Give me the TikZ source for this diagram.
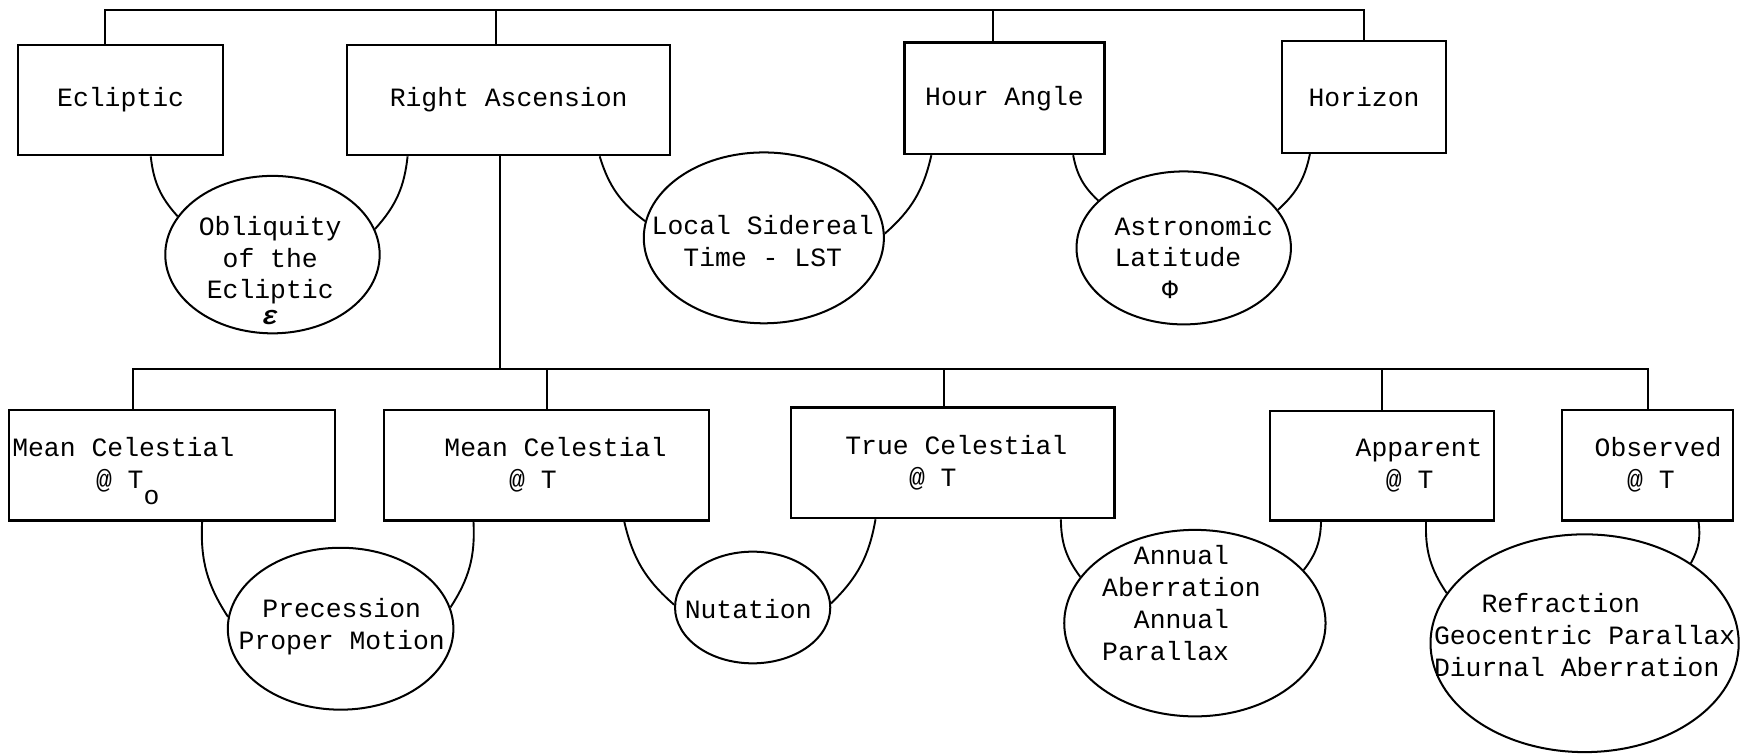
\documentclass[tikz,border=0pt]{standalone}
\usepackage{fontspec}
\setmainfont{Liberation Mono}
\usetikzlibrary{shapes.geometric}

\begin{document}
\begin{tikzpicture}[x=1pt, y=-1pt, line width=1.8pt,
        every node/.style={font=\fontsize{23.66}{28.5}\selectfont, inner sep=0pt},
        frame/.style={draw, rectangle, line width=2pt, minimum height=99pt},
        oval/.style={draw, ellipse, line width=1.8pt},
        link/.style={line width=1.7pt}]
        \useasboundingbox (0,0) rectangle (1568,675);

        % Nodes
        \node (ecl) [frame, minimum width=184pt] at (108,89.5) {Ecliptic};
        \node (ra) [frame, minimum width=289pt] at (455.5,89.5) {Right Ascension};
        \node (ha) [frame, minimum width=179pt, minimum height=100pt] at (899.5,88) {Hour Angle};
        \node (hor) [frame, minimum width=147pt, minimum height=100pt] at (1221.5,87) {Horizon};

        \node (obl) [oval, minimum width=192pt, minimum height=141pt] at (244,228) {};
        \node (oblt) [align=flush center] at (242,242) {Obliquity\\of the\\Ecliptic\\[-6pt]{\bfseries\itshape ε}};
        \node (lst) [oval, minimum width=215pt, minimum height=153pt] at (684,213) {};
        \node (lstt) [align=flush center] at (683,215.5) {Local Sidereal\\Time - LST};
        \node (ast) [oval, minimum width=192pt, minimum height=137pt] at (1060,222) {};
        \node (astt) [align=flush left] at (1069,230.5) {Astronomic\\Latitude\\~~~Φ};

        \node (mc0) [frame, minimum width=292pt, text width=292pt, align=flush left] at (154,416.5)
            {\hspace*{3pt}Mean Celestial\\\hspace*{78pt}@ T\raisebox{-14pt}[0pt][0pt]{o}};
        \node (mct) [frame, minimum width=291pt, text width=291pt, align=flush left] at (489.5,416.5)
            {\hspace*{54pt}Mean Celestial\\\hspace*{112pt}@ T};
        \node (tc) [frame, minimum width=290pt, text width=290pt, align=flush left] at (853,414.5)
            {\hspace*{49pt}True Celestial\\\hspace*{106pt}@ T};
        \node (app) [frame, minimum width=201pt, text width=201pt, align=flush left, minimum height=98pt] at (1237.5,417)
            {\hspace*{77pt}Apparent\\\hspace*{104pt}@ T};
        \node (obs) [frame, minimum width=153pt, text width=153pt, align=flush left] at (1475.5,416.5)
            {\hspace*{29pt}Observed\\\hspace*{58pt}@ T};

        \node (pre) [oval, minimum width=202pt, minimum height=145pt] at (305,563) {};
        \node (pret) [align=flush center] at (306,561) {Precession\\Proper Motion};
        \node (nut) [oval, minimum width=139pt, minimum height=100pt] at (674,544) {};
        \node (nutt) at (670,545) {Nutation};
        \node (ann) [oval, minimum width=234pt, minimum height=167pt] at (1070,558) {};
        \node (annt) [align=flush left] at (1058,540) {~~Annual\\Aberration\\~~Annual\\Parallax};
        \node (refr) [oval, minimum width=276pt, minimum height=195pt] at (1419,576) {};
        \node (refrt) [align=flush left] at (1419,568.5) {~~~Refraction\\Geocentric Parallax\\Diurnal Aberration};

        % Edges
        \coordinate (bus1) at (0,9);
        \coordinate (bus2) at (0,330);
        \draw ([xshift=-14pt]ecl.north) |- (bus1 -| hor.north) -- (hor.north);
        \draw ([xshift=-11pt]ra.north) -- ([xshift=-11pt]ra.north |- bus1);
        \draw ([xshift=-10.5pt]ha.north) -- ([xshift=-10.5pt]ha.north |- bus1);
        \draw ([xshift=-8pt]ra.south) -- ([xshift=-8pt]ra.south |- bus2);
        \draw ([xshift=-35pt]mc0.north) |- (bus2 -| obs.north) -- (obs.north);
        \draw (mct.north) -- (mct.north |- bus2);
        \draw ([xshift=-8pt]tc.north) -- ([xshift=-8pt]tc.north |- bus2);
        \draw (app.north) -- (app.north |- bus2);

        \draw[link] ([xshift=27pt]ecl.south) to[bend right=18] (obl.158);
        \draw[link] ([xshift=-90.5pt]ra.south) to[bend left=18] (obl.14);
        \draw[link] ([xshift=81.5pt]ra.south) to[bend right=18] (lst.172);
        \draw[link] ([xshift=-65.5pt]ha.south) to[bend left=18] (lst.2);
        \draw[link] ([xshift=61.5pt]ha.south) to[bend right=18] (ast.151);
        \draw[link] ([xshift=-48.5pt]hor.south) to[bend left=18] (ast.22);
        \draw[link] ([xshift=27pt]mc0.south) to[bend right=18] (pre.174);
        \draw[link] ([xshift=-65.5pt]mct.south) to[bend left=18] (pre.11);
        \draw[link] ([xshift=69.5pt]mct.south) to[bend right=18] (nut.178);
        \draw[link] ([xshift=-69pt]tc.south) to[bend left=18] (nut.3);
        \draw[link] ([xshift=97pt]tc.south) to[bend right=18] (ann.158);
        \draw[link] ([xshift=-54.5pt]app.south) to[bend left=18] (ann.26);
        \draw[link] ([xshift=39.5pt]app.south) to[bend right=18] (refr.160);
        \draw[link] ([xshift=45.5pt]obs.south) to[bend left=18] (refr.37);
    \end{tikzpicture}
\end{document}
